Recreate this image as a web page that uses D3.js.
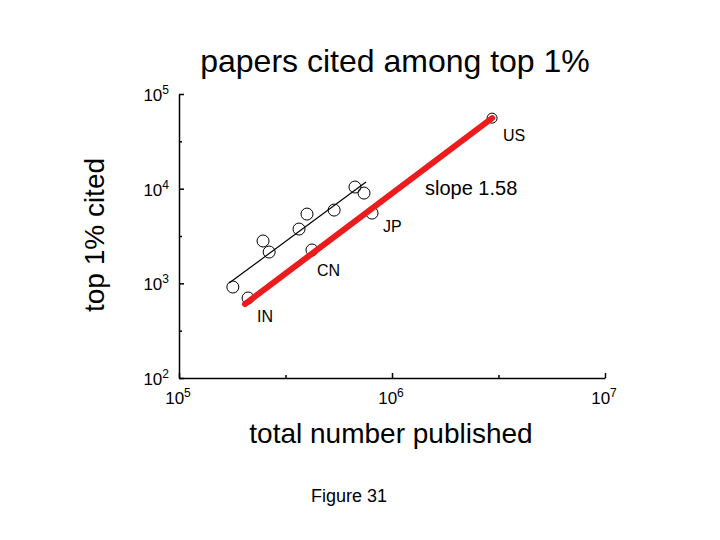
<html>
<meta charset="utf-8">
<head>
	<title>papers cited among top 1%</title>
	<script src="https://d3js.org/d3.v7.min.js"></script>
</head>
<body style="margin:0;background:#fff">
<svg id="chart" width="720" height="540"></svg>

<script>
	// values
	var totalPublished = [1.79e5, 2.11e5, 2.48e5, 2.65e5, 3.66e5, 3.99e5, 4.21e5, 5.35e5, 6.7e5, 7.39e5, 8.06e5, 2.95e6];
	var topCited       = [914,    700,    2800,   2140,   3745,   5390,   2250,   5940,   10400, 8980,   5520,   55600];
	var pointLabels    = ["",     "IN",   "",     "",     "",     "",     "CN",   "",     "",    "",     "JP",   "US"];

	// fitted lines: [x, y] end points
	var blackFit = [[1.72e5, 1007], [7.55e5, 11750]];
	var redFit   = [[2.04e5, 604], [2.95e6, 55600]];

	var xTicks = [1e5, Math.pow(10, 5.5), 1e6, Math.pow(10, 6.5), 1e7];
	var yTicks = [1e2, Math.pow(10, 2.5), 1e3, Math.pow(10, 3.5), 1e4, Math.pow(10, 4.5), 1e5];
	var xTickExps = [5, 6, 7];
	var yTickExps = [2, 3, 4, 5];

	var font = "'Liberation Sans', Arial, sans-serif";
	var svg = d3.select("#chart");

	var x = d3.scaleLog().domain([1e5, 1e7]).range([179, 605]);
	var y = d3.scaleLog().domain([1e2, 1e5]).range([378, 94]);

	function isMajor(v) {
		return Math.abs(Math.log10(v) - Math.round(Math.log10(v))) < 1e-6;
	}

	// axes
	var xAxis = svg.append("g")
		.attr("transform", "translate(0,378)")
		.call(d3.axisBottom(x).tickValues(xTicks).tickFormat("").tickSizeOuter(0).tickSizeInner(-5));
	xAxis.selectAll(".tick line").attr("y2", function (d) { return isMajor(d) ? -5 : -3; });

	var yAxis = svg.append("g")
		.attr("transform", "translate(179,0)")
		.call(d3.axisLeft(y).tickValues(yTicks).tickFormat("").tickSizeOuter(0).tickSizeInner(-5));
	yAxis.selectAll(".tick line").attr("x2", function (d) { return isMajor(d) ? 5 : 3; });

	svg.selectAll(".domain, .tick line").attr("stroke", "#000").attr("stroke-width", 1.5);

	// tick labels 10^n
	var xl = svg.selectAll("text.xtick").data(xTickExps).enter()
		.append("text")
		.attr("class", "xtick")
		.attr("x", function (e) { return x(Math.pow(10, e)) - 1; })
		.attr("y", 404)
		.attr("text-anchor", "middle")
		.style("font-family", font)
		.style("font-size", "17px");
	xl.append("tspan").text("10");
	xl.append("tspan").attr("dy", -7).style("font-size", "12px").text(function (e) { return e; });

	var yl = svg.selectAll("text.ytick").data(yTickExps).enter()
		.append("text")
		.attr("class", "ytick")
		.attr("x", 169)
		.attr("y", function (e) { return y(Math.pow(10, e)) + 7; })
		.attr("text-anchor", "end")
		.style("font-family", font)
		.style("font-size", "17px");
	yl.append("tspan").text("10");
	yl.append("tspan").attr("dy", -7).style("font-size", "12px").text(function (e) { return e; });

	// fit lines
	var line = d3.line()
		.x(function (d) { return x(d[0]); })
		.y(function (d) { return y(d[1]); });

	svg.append("path")
		.attr("d", line(blackFit))
		.attr("fill", "none")
		.attr("stroke", "#000")
		.attr("stroke-width", 1.2);

	// points
	var points = totalPublished.map(function (v, i) {
		return { x: v, y: topCited[i], label: pointLabels[i] };
	});

	svg.selectAll("circle.pt").data(points).enter()
		.append("circle")
		.attr("class", "pt")
		.attr("cx", function (d) { return x(d.x); })
		.attr("cy", function (d) { return y(d.y); })
		.attr("r", function (d) { return d.label === "US" ? 5 : 6; })
		.attr("fill", "none")
		.attr("stroke", "#000")
		.attr("stroke-width", 1);

	svg.append("path")
		.attr("d", line(redFit))
		.attr("fill", "none")
		.attr("stroke", "#ec1c1c")
		.attr("stroke-width", 6)
		.attr("stroke-linecap", "round");

	// country labels, offset from their point
	var labelOffset = { US: [11, 23], JP: [11, 19], CN: [5, 26], IN: [9, 24] };
	svg.selectAll("text.country").data(points.filter(function (d) { return d.label; })).enter()
		.append("text")
		.attr("class", "country")
		.attr("x", function (d) { return x(d.x) + labelOffset[d.label][0]; })
		.attr("y", function (d) { return y(d.y) + labelOffset[d.label][1]; })
		.style("font-family", font)
		.style("font-size", "16px")
		.text(function (d) { return d.label; });

	svg.append("text")
		.attr("x", 425).attr("y", 195)
		.style("font-family", font).style("font-size", "20px")
		.text("slope 1.58");

	// titles
	svg.append("text")
		.attr("x", 395).attr("y", 72)
		.attr("text-anchor", "middle")
		.style("font-family", font).style("font-size", "32px")
		.text("papers cited among top 1%");

	svg.append("text")
		.attr("x", 391).attr("y", 443)
		.attr("text-anchor", "middle")
		.style("font-family", font).style("font-size", "28px")
		.text("total number published");

	svg.append("text")
		.attr("transform", "translate(104,235) rotate(-90)")
		.attr("text-anchor", "middle")
		.style("font-family", font).style("font-size", "28px")
		.text("top 1% cited");

	svg.append("text")
		.attr("x", 349).attr("y", 502)
		.attr("text-anchor", "middle")
		.style("font-family", font).style("font-size", "18px")
		.text("Figure 31");
</script>
</body>
</html>
